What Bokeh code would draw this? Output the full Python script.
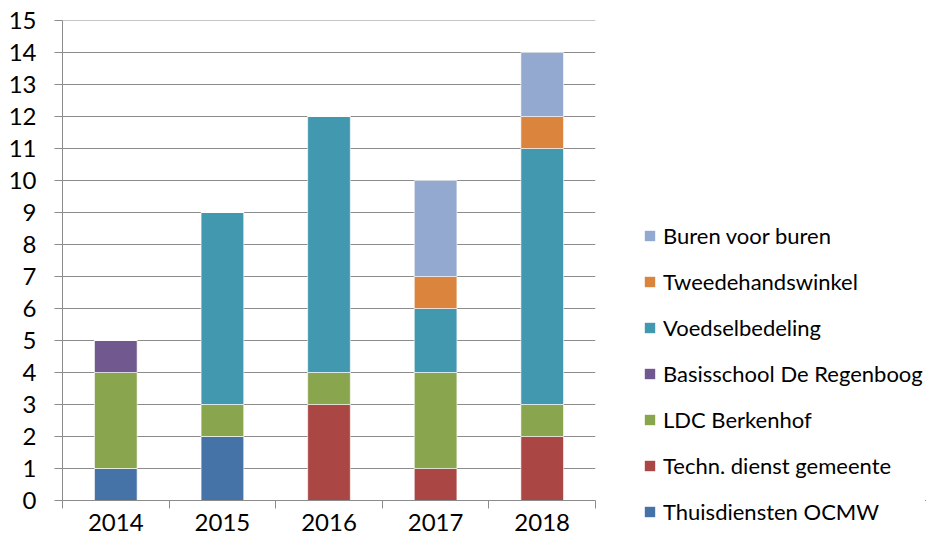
from bokeh.plotting import figure
from bokeh.layouts import row
from bokeh.models import Range1d, FixedTicker, Legend, LegendItem, ColumnDataSource
from bokeh.embed import file_html
from bokeh.resources import INLINE

years = ["2014", "2015", "2016", "2017", "2018"]
series = ["Thuisdiensten OCMW", "Techn. dienst gemeente", "LDC Berkenhof",
          "Basisschool De Regenboog", "Voedselbedeling", "Tweedehandswinkel", "Buren voor buren"]
thuisdiensten = [1, 2, 0, 0, 0]
techn = [0, 0, 3, 1, 2]
ldc = [3, 1, 1, 3, 1]
basisschool = [1, 0, 0, 0, 0]
voedsel = [0, 6, 8, 2, 8]
tweedehands = [0, 0, 0, 1, 1]
buren = [0, 0, 0, 3, 2]
colors = ["#4572A7", "#AA4643", "#89A54E", "#71588F", "#4198AF", "#DB843D", "#93A9CF"]
y_ticks = list(range(0, 16))

FONT = "Lato"
GRID = "#8c8c8c"

xpos = [i + 0.5 for i in range(len(years))]
data = {"x": xpos}
keys = ["s0", "s1", "s2", "s3", "s4", "s5", "s6"]
for k, vals in zip(keys, [thuisdiensten, techn, ldc, basisschool, voedsel, tweedehands, buren]):
    data[k] = vals
src = ColumnDataSource(data)

p = figure(width=600, height=539, output_backend="svg", toolbar_location=None,
           x_range=Range1d(0, len(years)), y_range=Range1d(0, 15.0001),
           min_border_left=62, min_border_right=5, min_border_top=20, min_border_bottom=39)
p.outline_line_color = None
p.background_fill_color = "white"
p.border_fill_color = "white"

p.vbar_stack(keys, x="x", width=0.4, source=src, color=colors,
             line_color="white", line_alpha=0.6, line_width=1)

# axes
p.xgrid.grid_line_color = None
p.ygrid.grid_line_color = GRID
p.ygrid.grid_line_width = 1
p.ygrid.ticker = FixedTicker(ticks=y_ticks)

p.yaxis.ticker = FixedTicker(ticks=y_ticks)
p.yaxis.axis_line_color = GRID
p.yaxis.major_tick_line_color = GRID
p.yaxis.major_tick_out = 8
p.yaxis.major_tick_in = 0
p.yaxis.minor_tick_line_color = None
p.yaxis.major_label_standoff = 18
p.yaxis.major_label_text_font = FONT
p.yaxis.major_label_text_font_size = "24px"
p.yaxis.major_label_text_color = "black"

p.xaxis.ticker = FixedTicker(ticks=xpos, minor_ticks=list(range(0, len(years) + 1)))
p.xaxis.major_label_overrides = {x: y for x, y in zip(xpos, years)}
p.xaxis.axis_line_color = GRID
p.xaxis.major_tick_line_color = None
p.xaxis.minor_tick_line_color = GRID
p.xaxis.minor_tick_out = 8
p.xaxis.minor_tick_in = 0
p.xaxis.major_tick_out = 8
p.xaxis.major_label_standoff = 5
p.xaxis.major_label_text_font = FONT
p.xaxis.major_label_text_font_size = "24px"
p.xaxis.major_label_text_color = "black"

# legend panel (separate figure; its bars are out of view, only used for swatches)
pl = figure(width=325, height=539, output_backend="svg", toolbar_location=None,
            x_range=Range1d(100, 101), y_range=Range1d(100, 101),
            min_border_left=0, min_border_right=0, min_border_top=0, min_border_bottom=0)
pl.axis.visible = False
pl.grid.visible = False
pl.outline_line_color = None
pl.background_fill_color = "white"
pl.border_fill_color = "white"
lr = pl.vbar_stack(keys, x="x", width=0.4, source=src, color=colors, line_color=None)

items = [LegendItem(label=name, renderers=[r]) for name, r in zip(series, lr)]
items = items[::-1]
legend = Legend(items=items, location=(43, -25), orientation="vertical",
                padding=0, margin=0, spacing=19, border_line_color=None,
                background_fill_alpha=0, glyph_width=13, glyph_height=13,
                label_standoff=7, label_height=20,
                label_text_font=FONT, label_text_font_size="22px", label_text_color="black")
pl.add_layout(legend, "left")

layout = row(p, pl)
open("out.html", "w").write(file_html(layout, INLINE))
